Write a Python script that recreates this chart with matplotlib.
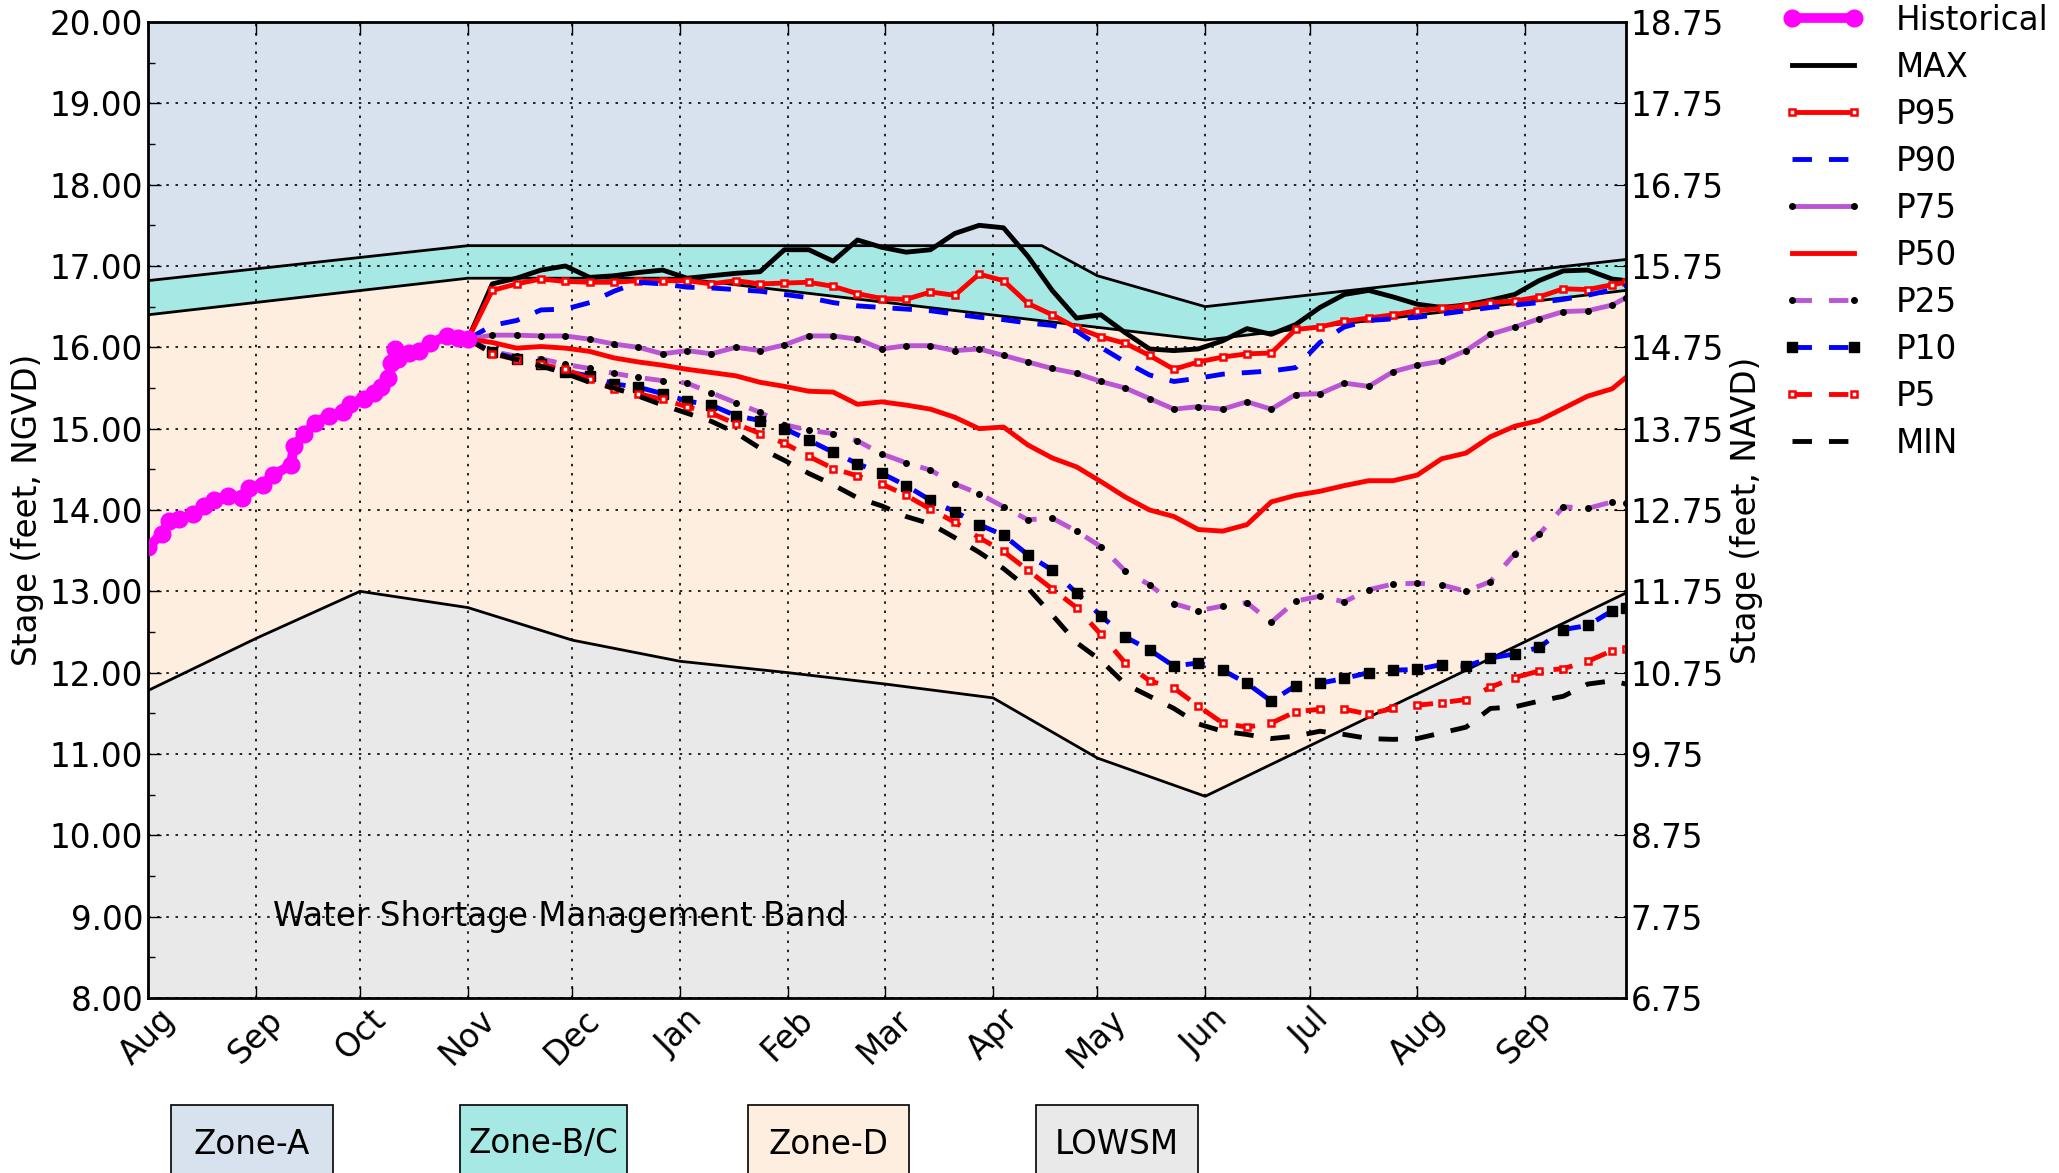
import matplotlib
matplotlib.use('Agg')
import matplotlib.pyplot as plt
import matplotlib.dates as mdates
from matplotlib.patches import Rectangle
from matplotlib.ticker import FormatStrFormatter, MultipleLocator, FixedLocator
import numpy as np
import pandas as pd

#------ zone boundaries (feet, NGVD) ------
zone_a_dates = ['2016-08-01', '2016-11-01', '2017-04-15', '2017-05-01', '2017-06-01', '2017-09-30']
zone_a_stage = [16.82, 17.25, 17.25, 16.88, 16.50, 17.08]
zone_bc_dates = ['2016-08-01', '2016-11-01', '2017-01-01', '2017-06-01', '2017-09-30']
zone_bc_stage = [16.40, 16.85, 16.85, 16.09, 16.70]
lowsm_dates = ['2016-08-01', '2016-09-01', '2016-10-01', '2016-11-01', '2016-12-01', '2017-01-01',
               '2017-02-01', '2017-03-01', '2017-04-01', '2017-05-01', '2017-06-01', '2017-09-30']
lowsm_stage = [11.78, 12.42, 13.00, 12.80, 12.40, 12.14, 12.00, 11.86, 11.69, 10.95, 10.48, 12.98]

#------ observed stage ------
hist_dates = ['2016-08-01', '2016-08-05', '2016-08-07', '2016-08-10', '2016-08-14', '2016-08-17',
              '2016-08-20', '2016-08-24', '2016-08-28', '2016-08-30', '2016-09-03', '2016-09-06',
              '2016-09-11', '2016-09-12', '2016-09-15', '2016-09-18', '2016-09-22', '2016-09-26',
              '2016-09-28', '2016-10-02', '2016-10-05', '2016-10-07', '2016-10-09', '2016-10-10',
              '2016-10-11', '2016-10-12', '2016-10-15', '2016-10-18', '2016-10-21', '2016-10-26',
              '2016-10-29', '2016-11-01']
hist_stage = [13.55, 13.70, 13.86, 13.89, 13.95, 14.05, 14.12, 14.17, 14.15, 14.27, 14.31, 14.43,
              14.55, 14.79, 14.93, 15.07, 15.16, 15.21, 15.30, 15.37, 15.44, 15.51, 15.62, 15.81,
              15.98, 15.86, 15.93, 15.95, 16.05, 16.14, 16.12, 16.10]

#------ position analysis (weekly from Nov 1, last point Sep 30) ------
fc_dates = pd.date_range('2016-11-01', '2017-09-26', freq='7D').append(pd.DatetimeIndex(['2017-09-30']))

p_max = [16.10, 16.78, 16.85, 16.95, 17.00, 16.86, 16.88, 16.92, 16.95, 16.85, 16.88, 16.91,
         16.93, 17.20, 17.20, 17.06, 17.32, 17.23, 17.17, 17.20, 17.40, 17.50, 17.47, 17.12,
         16.70, 16.36, 16.40, 16.18, 15.98, 15.96, 15.98, 16.08, 16.23, 16.16, 16.28, 16.49,
         16.65, 16.70, 16.62, 16.53, 16.49, 16.52, 16.58, 16.65, 16.82, 16.94, 16.95, 16.84, 16.82]
p95 = [16.10, 16.70, 16.78, 16.84, 16.81, 16.80, 16.80, 16.82, 16.82, 16.82, 16.78, 16.82,
       16.78, 16.79, 16.80, 16.75, 16.66, 16.60, 16.59, 16.68, 16.64, 16.90, 16.82, 16.54,
       16.40, 16.24, 16.13, 16.05, 15.90, 15.73, 15.82, 15.88, 15.92, 15.93, 16.22, 16.25,
       16.32, 16.36, 16.40, 16.45, 16.48, 16.51, 16.55, 16.57, 16.62, 16.72, 16.71, 16.77, 16.80]
p90 = [16.10, 16.27, 16.33, 16.46, 16.47, 16.55, 16.69, 16.80, 16.78, 16.74, 16.73, 16.71,
       16.69, 16.65, 16.61, 16.55, 16.51, 16.49, 16.47, 16.45, 16.41, 16.37, 16.34, 16.30,
       16.27, 16.20, 16.00, 15.82, 15.66, 15.58, 15.62, 15.67, 15.69, 15.71, 15.75, 16.06,
       16.25, 16.33, 16.35, 16.37, 16.41, 16.45, 16.49, 16.52, 16.55, 16.59, 16.64, 16.71, 16.76]
p75 = [16.10, 16.15, 16.15, 16.14, 16.14, 16.10, 16.04, 16.00, 15.92, 15.96, 15.92, 16.00,
       15.96, 16.03, 16.14, 16.14, 16.10, 15.98, 16.02, 16.02, 15.96, 15.98, 15.90, 15.82,
       15.74, 15.68, 15.58, 15.50, 15.37, 15.24, 15.27, 15.24, 15.33, 15.24, 15.42, 15.43,
       15.56, 15.52, 15.70, 15.78, 15.83, 15.96, 16.16, 16.25, 16.35, 16.44, 16.45, 16.52, 16.61]
p50 = [16.10, 16.06, 15.99, 16.01, 15.99, 15.95, 15.87, 15.82, 15.78, 15.73, 15.69, 15.65,
       15.57, 15.52, 15.46, 15.45, 15.30, 15.33, 15.29, 15.24, 15.14, 15.00, 15.02, 14.80,
       14.64, 14.53, 14.35, 14.16, 14.00, 13.92, 13.76, 13.74, 13.82, 14.10, 14.18, 14.23,
       14.30, 14.36, 14.36, 14.43, 14.63, 14.70, 14.90, 15.03, 15.10, 15.25, 15.40, 15.49, 15.63]
p25 = [16.10, 15.95, 15.89, 15.86, 15.79, 15.74, 15.68, 15.63, 15.59, 15.56, 15.44, 15.32,
       15.20, 15.05, 14.98, 14.94, 14.85, 14.69, 14.58, 14.49, 14.32, 14.20, 14.04, 13.88,
       13.90, 13.74, 13.55, 13.25, 13.08, 12.85, 12.76, 12.82, 12.86, 12.62, 12.88, 12.94,
       12.87, 13.02, 13.09, 13.10, 13.08, 13.00, 13.12, 13.46, 13.70, 14.04, 14.02, 14.10, 14.09]
p10 = [16.10, 15.94, 15.86, 15.80, 15.70, 15.65, 15.55, 15.51, 15.43, 15.34, 15.29, 15.16,
       15.10, 15.00, 14.86, 14.71, 14.57, 14.45, 14.30, 14.12, 13.98, 13.82, 13.69, 13.45,
       13.26, 12.98, 12.70, 12.44, 12.28, 12.08, 12.12, 12.03, 11.87, 11.65, 11.84, 11.87,
       11.93, 12.00, 12.03, 12.04, 12.10, 12.08, 12.18, 12.23, 12.31, 12.53, 12.58, 12.76, 12.80]
p5 = [16.10, 15.92, 15.85, 15.79, 15.73, 15.61, 15.49, 15.43, 15.36, 15.27, 15.19, 15.06,
      14.94, 14.82, 14.66, 14.51, 14.42, 14.32, 14.18, 14.01, 13.85, 13.66, 13.49, 13.26,
      13.03, 12.80, 12.47, 12.12, 11.90, 11.81, 11.59, 11.38, 11.33, 11.38, 11.52, 11.55,
      11.55, 11.49, 11.56, 11.60, 11.63, 11.67, 11.82, 11.94, 12.02, 12.05, 12.14, 12.27, 12.29]
p_min = [16.10, 15.93, 15.85, 15.77, 15.68, 15.57, 15.50, 15.40, 15.29, 15.19, 15.09, 14.95,
         14.76, 14.61, 14.45, 14.31, 14.15, 14.05, 13.92, 13.83, 13.66, 13.48, 13.28, 13.04,
         12.71, 12.37, 12.15, 11.86, 11.71, 11.56, 11.37, 11.28, 11.24, 11.19, 11.22, 11.28,
         11.24, 11.19, 11.18, 11.19, 11.26, 11.33, 11.56, 11.58, 11.65, 11.71, 11.86, 11.90, 11.86]

month_labels = ['Aug', 'Sep', 'Oct', 'Nov', 'Dec', 'Jan', 'Feb', 'Mar', 'Apr', 'May', 'Jun', 'Jul', 'Aug', 'Sep']
zone_labels = ['Zone-A', 'Zone-B/C', 'Zone-D', 'LOWSM']
zone_colors = ['#D8E2EE', '#A5E8E4', '#FDEEDF', '#E9E9E9']

FS = 23.5
W, H = 2059, 1173
fig = plt.figure(figsize=(W / 100, H / 100), dpi=100)
ax = fig.add_axes([148 / W, 1 - 998 / H, (1626 - 148) / W, (998 - 22) / H])

def dnum(d):
    return mdates.date2num(pd.to_datetime(d))

xa, xb, xl = dnum(zone_a_dates), dnum(zone_bc_dates), dnum(lowsm_dates)
x0, x1 = dnum('2016-08-01'), dnum('2017-09-30')

# zone fills
ax.fill(np.r_[xa, x1, x0], np.r_[zone_a_stage, 20, 20], color=zone_colors[0], lw=0)
ax.fill(np.r_[xa, xb[::-1]], np.r_[zone_a_stage, zone_bc_stage[::-1]], color=zone_colors[1], lw=0)
ax.fill(np.r_[xb, xl[::-1]], np.r_[zone_bc_stage, lowsm_stage[::-1]], color=zone_colors[2], lw=0)
ax.fill(np.r_[xl, x1, x0], np.r_[lowsm_stage, 8, 8], color=zone_colors[3], lw=0)
for xx, yy in [(xa, zone_a_stage), (xb, zone_bc_stage), (xl, lowsm_stage)]:
    ax.plot(xx, yy, color='black', lw=2, zorder=2)

xf = mdates.date2num(fc_dates)
lw = 3.5
dash = (4, 3.5)
h_hist, = ax.plot(dnum(hist_dates), hist_stage, color='magenta', lw=7, marker='o', ms=12,
                  mec='magenta', label='Historical', zorder=6)
h_max, = ax.plot(xf, p_max, color='black', lw=lw, label='MAX')
h95, = ax.plot(xf, p95, color='red', lw=lw, marker='s', ms=5, mfc='white', mec='red', mew=1.8, label='P95')
h90, = ax.plot(xf, p90, color='blue', lw=lw, ls='--', dashes=dash, label='P90')
h75, = ax.plot(xf, p75, color='mediumorchid', lw=lw, marker='o', ms=4, mfc='black', mec='black', label='P75')
h50, = ax.plot(xf, p50, color='red', lw=lw, label='P50')
h25, = ax.plot(xf, p25, color='mediumorchid', lw=lw, ls='--', dashes=dash, marker='o', ms=4,
               mfc='black', mec='black', label='P25')
h10, = ax.plot(xf, p10, color='blue', lw=lw, ls='--', dashes=dash, marker='s', ms=7,
               mfc='black', mec='black', label='P10')
h5, = ax.plot(xf, p5, color='red', lw=lw, ls='--', dashes=dash, marker='s', ms=5, mfc='white',
              mec='red', mew=1.8, label='P5')
hmin, = ax.plot(xf, p_min, color='black', lw=lw, ls='--', dashes=dash, label='MIN')

ax.text(dnum('2016-09-06'), 9.0, 'Water Shortage Management Band', fontsize=FS, va='center', ha='left')

# axes formatting
ax.set_xlim(x0, x1)
ax.set_ylim(8, 20)
month_starts = mdates.date2num(pd.date_range('2016-08-01', '2017-09-01', freq='MS'))
ax.xaxis.set_major_locator(FixedLocator(month_starts))
ax.set_xticklabels(month_labels, rotation=45, ha='center', fontsize=FS)
ax.yaxis.set_major_locator(MultipleLocator(1))
ax.yaxis.set_minor_locator(MultipleLocator(0.5))
ax.yaxis.set_major_formatter(FormatStrFormatter('%.2f'))
ax.tick_params(axis='y', labelsize=FS)
ax.tick_params(which='both', direction='in', top=True)
ax.tick_params(which='major', length=9, width=1)
ax.tick_params(which='minor', length=5, width=1)
ax.grid(True, which='major', linestyle=(0, (1.5, 4)), color='black', linewidth=1.2)
ax.set_ylabel('Stage (feet, NGVD)', fontsize=FS)
for s in ax.spines.values():
    s.set_linewidth(2)

ax2 = ax.twinx()
ax2.set_ylim(6.75, 18.75)
ax2.yaxis.set_major_locator(FixedLocator(np.arange(6.75, 18.76, 1.0)))
ax2.yaxis.set_major_formatter(FormatStrFormatter('%.2f'))
ax2.tick_params(direction='in', length=9, labelsize=FS)
ax2.set_ylabel('Stage (feet, NAVD)', fontsize=FS)

fig.legend(handles=[h_hist, h_max, h95, h90, h75, h50, h25, h10, h5, hmin],
           loc='upper left', bbox_to_anchor=(1782 / W, 0.997), frameon=False, fontsize=FS,
           numpoints=2, handlelength=2.5, handletextpad=1.0, labelspacing=0.43,
           borderpad=0, borderaxespad=0)

# zone colour key along the bottom
box_left = [171, 460, 748, 1036]
box_width = [162, 167, 161, 162]
for lab, col, bl, bw in zip(zone_labels, zone_colors, box_left, box_width):
    fig.add_artist(Rectangle((bl / W, 1 - 1195 / H), bw / W, 90 / H, transform=fig.transFigure,
                             facecolor=col, edgecolor='black', lw=1.2))
    fig.text((bl + bw / 2) / W, 1 - 1144 / H, lab, fontsize=FS, ha='center', va='center')

fig.savefig('out.png', dpi=100)
